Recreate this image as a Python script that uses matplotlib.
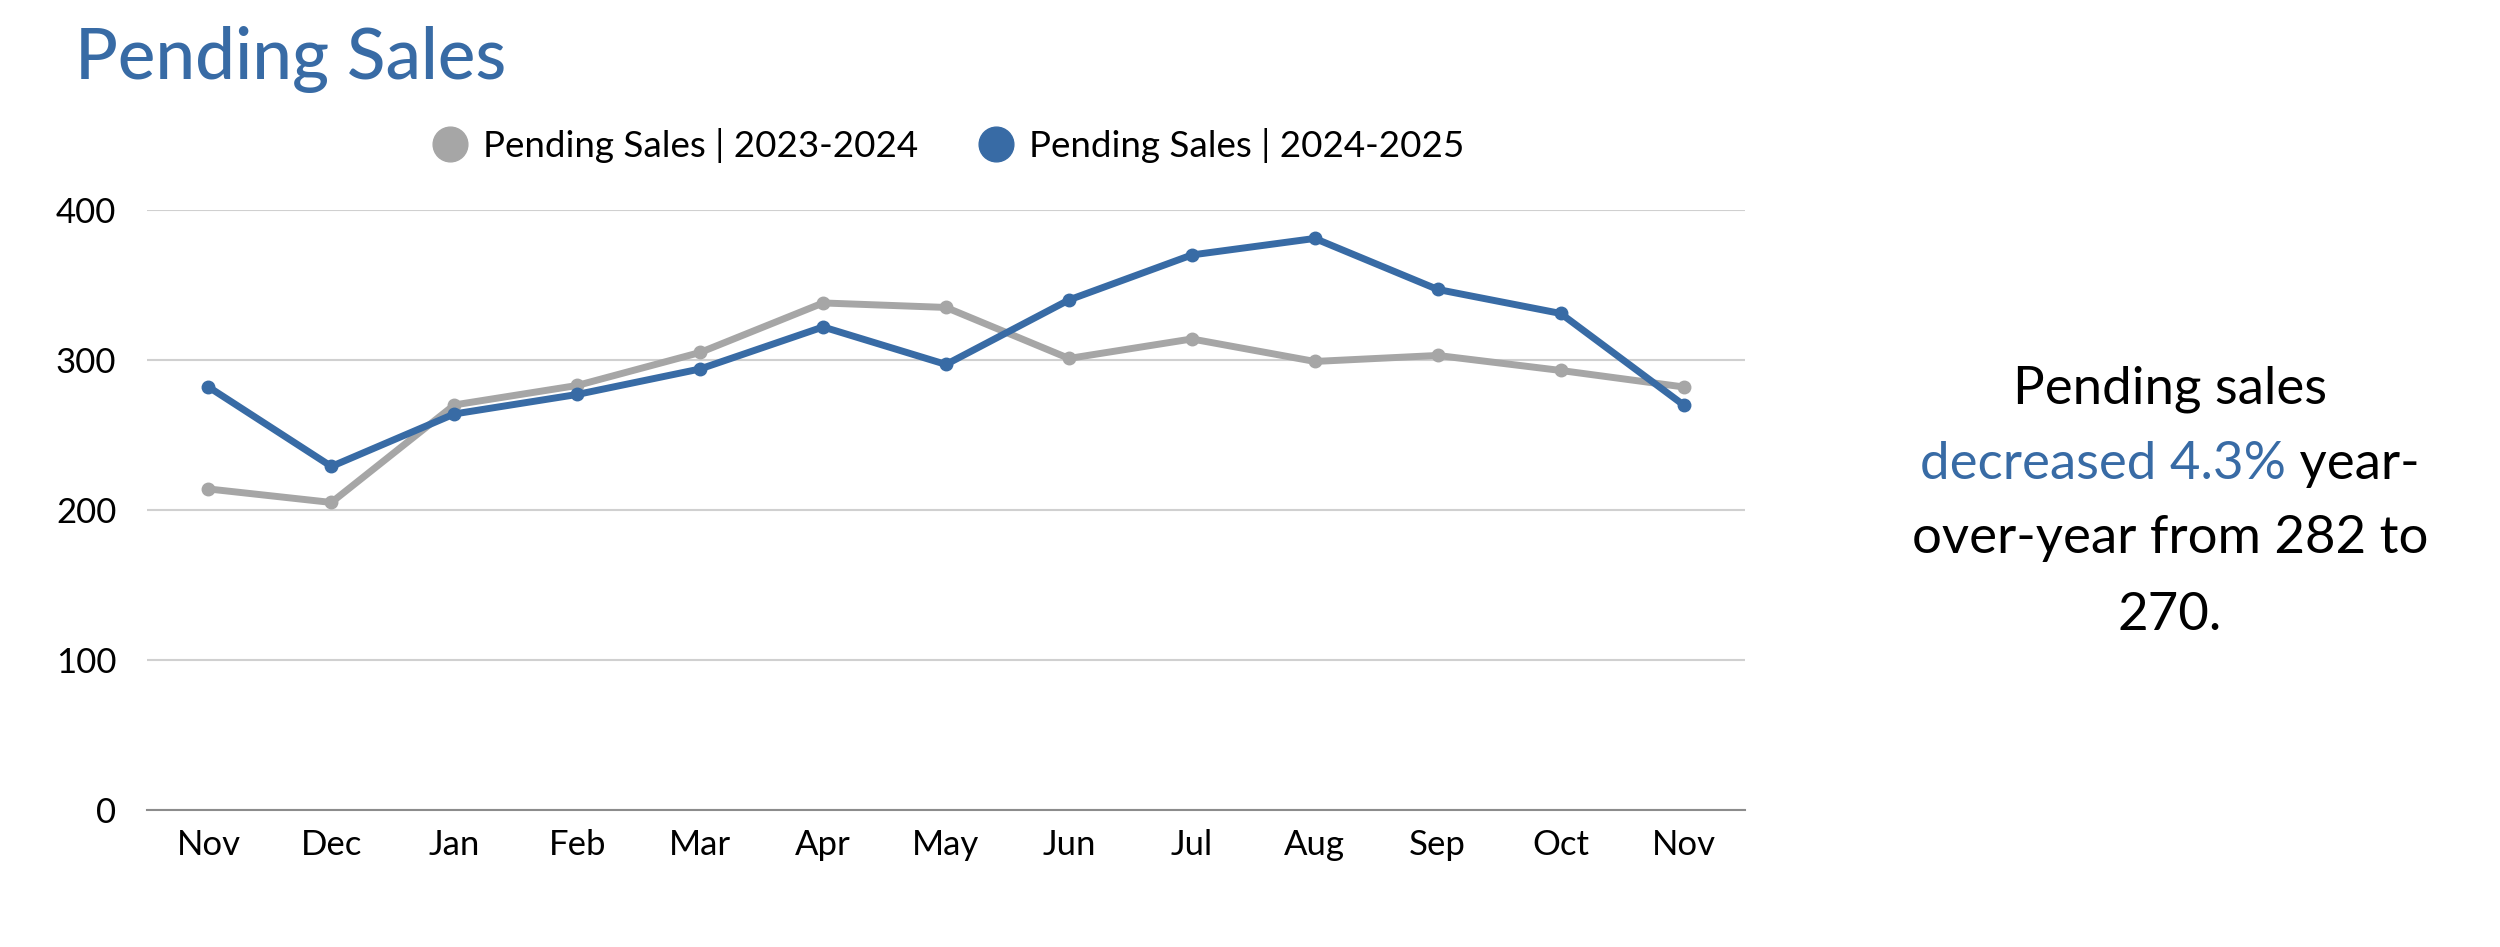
import matplotlib

matplotlib.use("Agg")
import matplotlib.pyplot as plt

MONTHS = ["Nov", "Dec", "Jan", "Feb", "Mar", "Apr", "May", "Jun", "Jul", "Aug", "Sep", "Oct", "Nov"]
SALES_2023_2024 = [214, 205, 270, 283, 305, 338, 335, 301, 314, 299, 303, 293, 282]
SALES_2024_2025 = [282, 229, 264, 277, 294, 322, 297, 340, 370, 381, 347, 331, 270]
LABEL_OLD = "Pending Sales | 2023-2024"
LABEL_NEW = "Pending Sales | 2024-2025"

BLUE = "#386BA5"
GRAY = "#A6A6A6"

plt.rcParams["font.family"] = ["Lato", "DejaVu Sans"]

fig = plt.figure(figsize=(25, 9.47), dpi=100)
ax = fig.add_axes([0.0588, 0.1447, 0.6392, 0.6336])

x = range(len(MONTHS))
ax.plot(x, SALES_2023_2024, color=GRAY, lw=5, marker="o", ms=9, label=LABEL_OLD, zorder=3)
ax.plot(x, SALES_2024_2025, color=BLUE, lw=5, marker="o", ms=9, label=LABEL_NEW, zorder=4)

ax.set_xlim(-0.5, len(MONTHS) - 0.5)
ax.set_ylim(0, 400)
ax.set_yticks([0, 100, 200, 300, 400])
ax.set_xticks(list(x))
ax.set_xticklabels(MONTHS)
ax.tick_params(axis="y", length=0, labelsize=25, pad=22)
ax.tick_params(axis="x", length=0, labelsize=25, pad=14)
ax.grid(axis="y", color="#D0D0D0", lw=1.5)
ax.set_axisbelow(True)
for side in ("left", "right", "top"):
    ax.spines[side].set_visible(False)
ax.spines["bottom"].set_color("#8C8C8C")
ax.spines["bottom"].set_linewidth(1.5)

handles = [
    plt.Line2D([], [], ls="none", marker="o", ms=25, color=GRAY),
    plt.Line2D([], [], ls="none", marker="o", ms=25, color=BLUE),
]
ax.legend(handles, [LABEL_OLD, LABEL_NEW], loc="center", bbox_to_anchor=(0.5, 1.107),
          ncol=2, frameon=False, fontsize=26.5, handletextpad=0.3, columnspacing=1.5,
          handlelength=1.2)

fig.text(0.030, 0.937, "Pending Sales", color=BLUE, fontsize=51, fontweight="medium",
         ha="left", va="center")

# right-hand summary, second line is two-coloured
cx = 0.868
fs = 38
fig.text(cx, 0.589, "Pending sales", fontsize=fs, ha="center", va="center")
fig.text(cx, 0.431, "over-year from 282 to", fontsize=fs, ha="center", va="center")
fig.text(cx, 0.350, "270.", fontsize=fs, ha="center", va="center")

renderer = fig.canvas.get_renderer()
part_a = fig.text(0, 0.510, "decreased 4.3%", fontsize=fs, color=BLUE, ha="left", va="center")
part_b = fig.text(0, 0.510, " year-", fontsize=fs, ha="left", va="center")
wa = part_a.get_window_extent(renderer).width / fig.bbox.width
wb = part_b.get_window_extent(renderer).width / fig.bbox.width
start = cx - (wa + wb) / 2
part_a.set_x(start)
part_b.set_x(start + wa)

fig.savefig("out.png", dpi=100, facecolor="white")
